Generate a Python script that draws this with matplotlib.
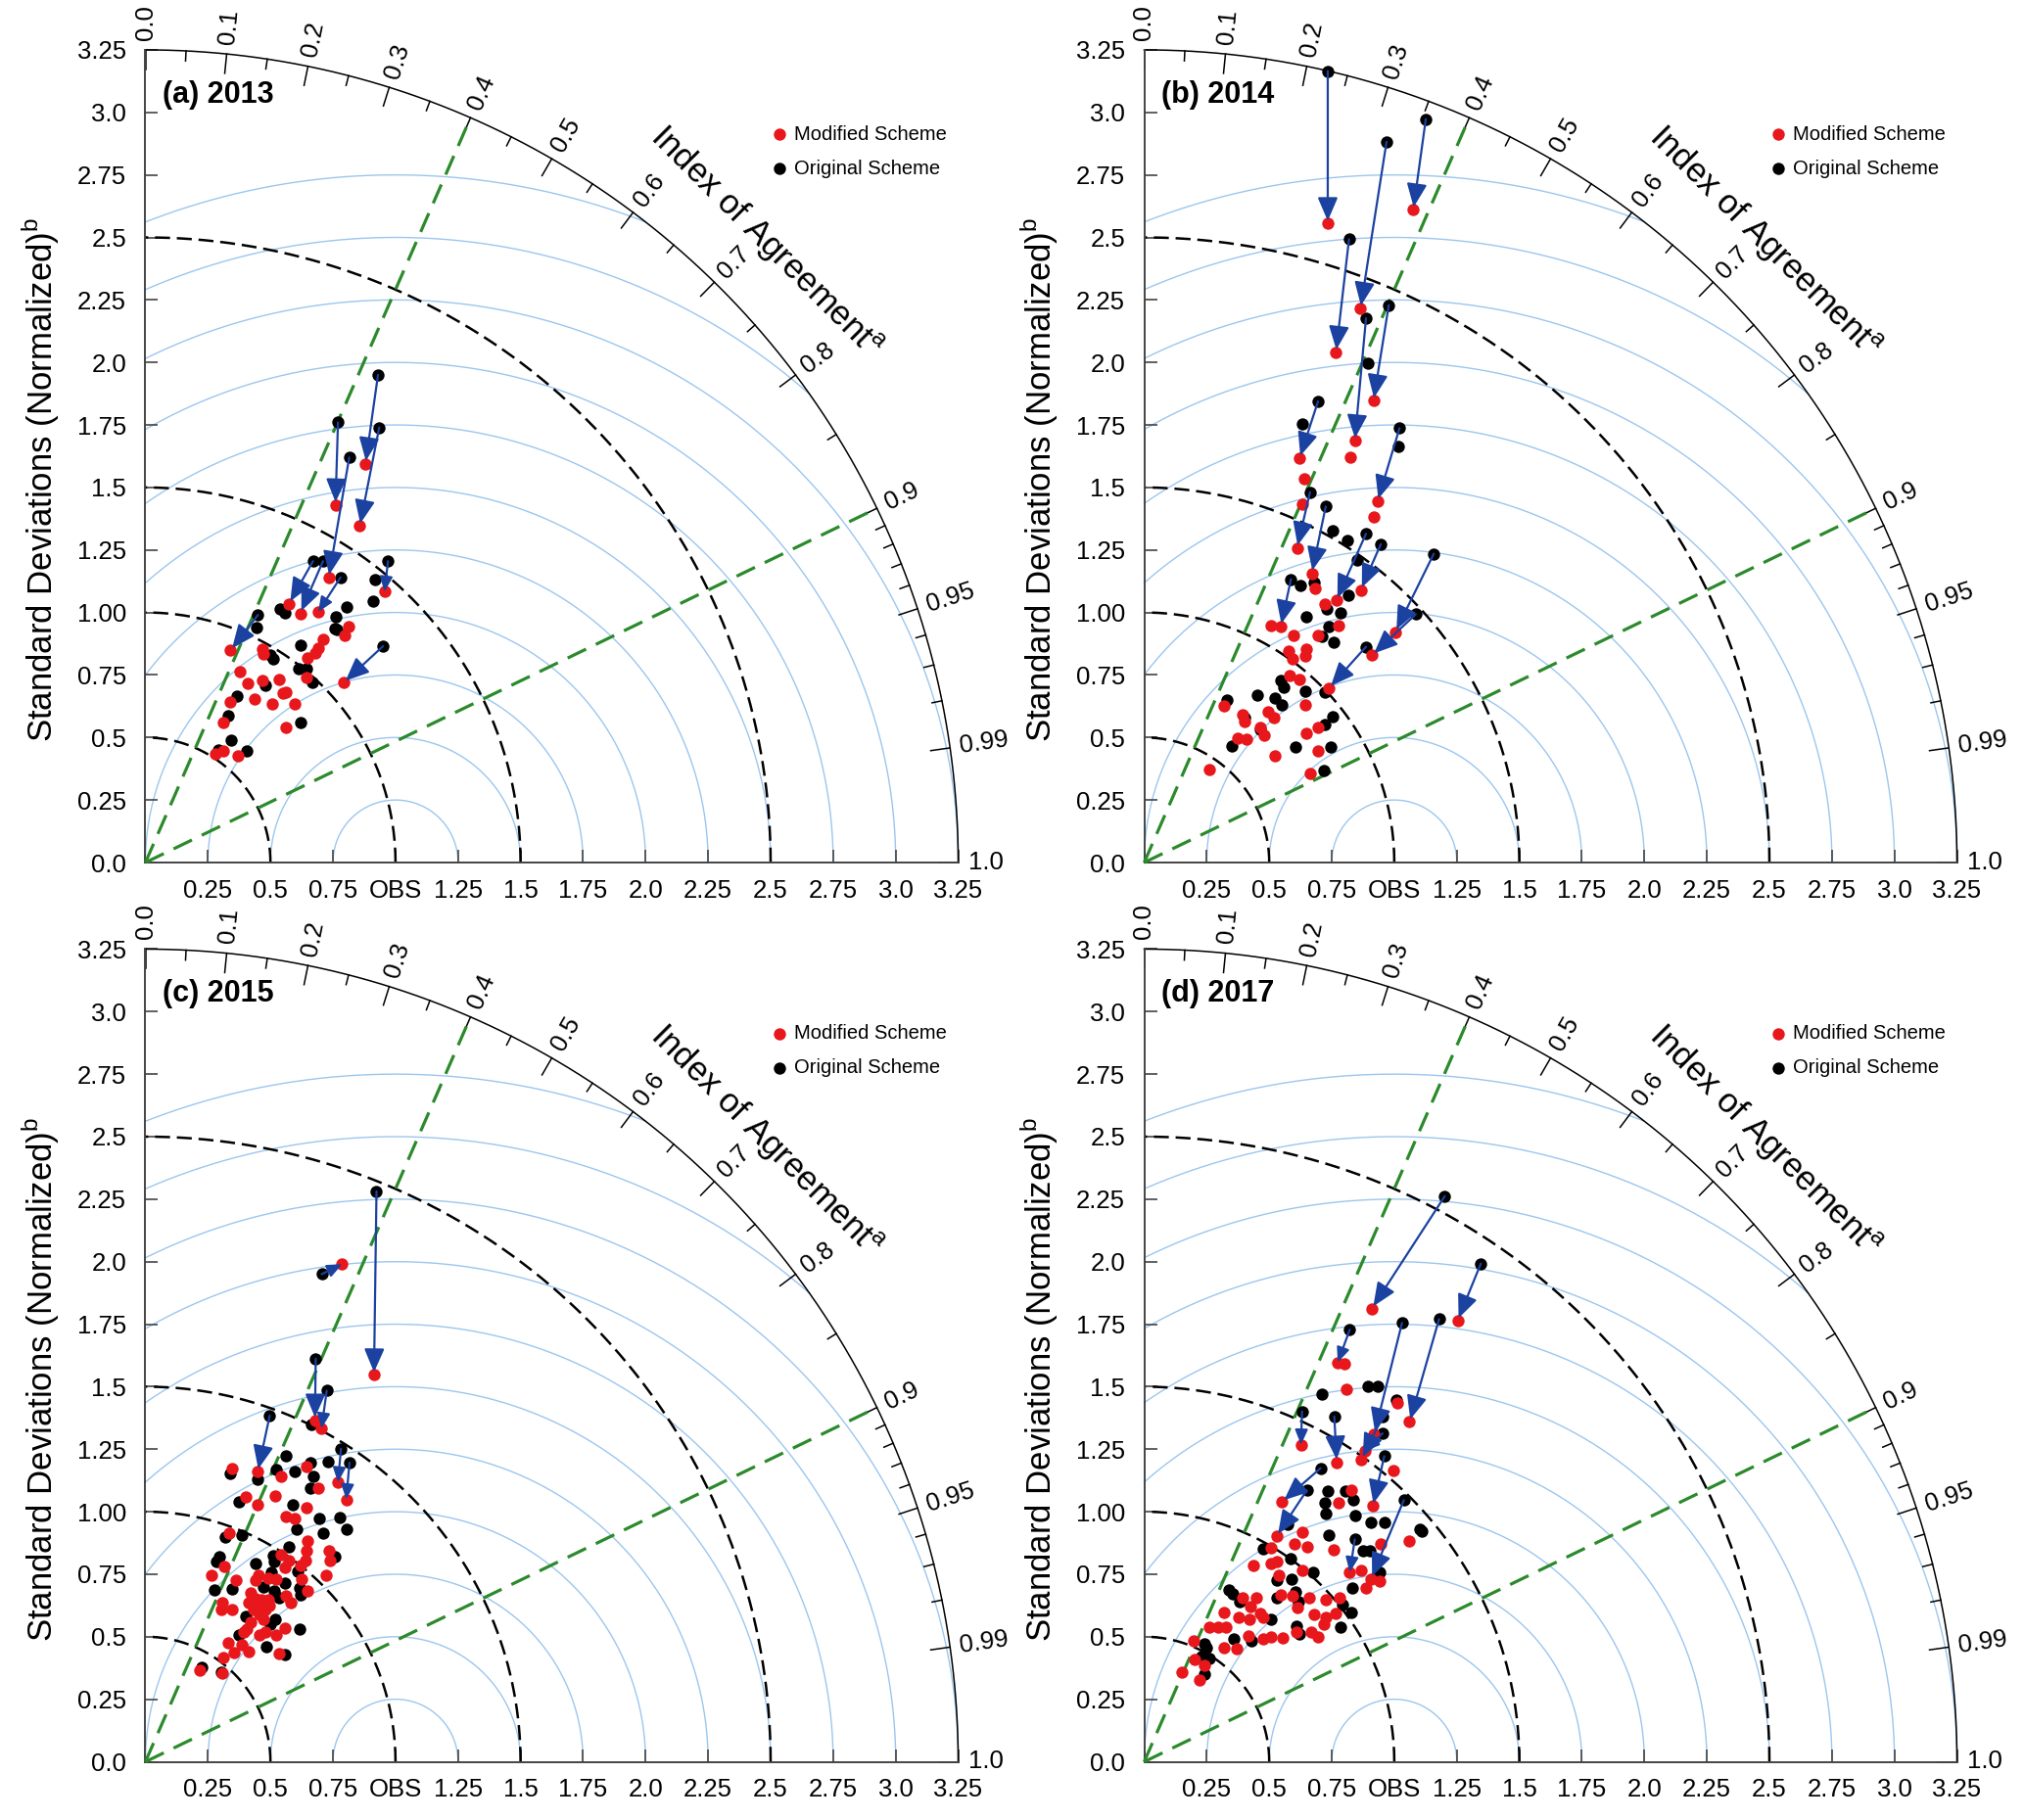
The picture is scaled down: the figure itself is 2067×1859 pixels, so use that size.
import numpy as np
import matplotlib
matplotlib.use('Agg')
import matplotlib.pyplot as plt

plt.rcParams['font.family'] = ['Liberation Sans', 'DejaVu Sans']
plt.rcParams['mathtext.fontset'] = 'custom'
plt.rcParams['mathtext.rm'] = 'Liberation Sans'
plt.rcParams['lines.scale_dashes'] = False

# ---- data (x = std*cos, y = std*sin, normalized) ----
# the first *_links points of orig are linked by an arrow to the same index in mod

titles = ['(a) 2013', '(b) 2014', '(c) 2015', '(d) 2017']

a_orig = [(0.93, 1.95), (0.77, 1.76), (0.935, 1.74), (0.815, 1.62), (0.67, 1.205), (0.71, 1.205),
          (0.78, 1.14), (0.97, 1.205), (0.45, 0.99), (0.95, 0.865),
          (0.92, 1.13), (0.91, 1.045), (0.54, 1.015), (0.557, 1.0), (0.805, 1.02), (0.763, 0.983),
          (0.756, 0.937), (0.765, 0.933), (0.446, 0.94), (0.622, 0.869), (0.512, 0.813), (0.50, 0.83),
          (0.613, 0.777), (0.643, 0.777), (0.668, 0.719), (0.48, 0.709), (0.367, 0.667), (0.33, 0.588),
          (0.343, 0.489), (0.407, 0.448), (0.622, 0.561), (0.29, 0.45)]
a_mod = [(0.88, 1.595), (0.76, 1.43), (0.857, 1.345), (0.733, 1.14), (0.574, 1.035), (0.619, 0.996),
         (0.691, 1.002), (0.956, 1.083), (0.34, 0.848), (0.792, 0.719),
         (0.469, 0.852), (0.473, 0.833), (0.711, 0.891), (0.691, 0.859), (0.678, 0.839), (0.648, 0.817),
         (0.812, 0.944), (0.796, 0.907), (0.643, 0.741), (0.378, 0.764), (0.41, 0.715), (0.467, 0.728),
         (0.534, 0.732), (0.561, 0.683), (0.55, 0.677), (0.437, 0.654), (0.508, 0.633), (0.596, 0.633),
         (0.339, 0.641), (0.313, 0.559), (0.561, 0.539), (0.28, 0.435), (0.313, 0.445), (0.369, 0.426)]
a_links = 10

b_orig = [(0.734, 3.165), (1.126, 2.973), (0.969, 2.882), (0.819, 2.493), (0.978, 2.229), (0.887, 2.177),
          (0.695, 1.844), (1.021, 1.737), (0.663, 1.481), (0.726, 1.424), (0.887, 1.315), (0.946, 1.273),
          (1.158, 1.235), (1.086, 0.993), (0.887, 0.863), (0.587, 1.133),
          (0.893, 1.998), (0.632, 1.753), (1.017, 1.664), (0.752, 1.329), (0.811, 1.289), (0.852, 1.211),
          (0.626, 1.107), (0.678, 1.120), (0.815, 1.070), (0.730, 1.016), (0.785, 0.998), (0.649, 0.982),
          (0.739, 0.944), (0.711, 0.904), (0.756, 0.881), (0.547, 0.728), (0.557, 0.702), (0.645, 0.687),
          (0.453, 0.670), (0.521, 0.659), (0.551, 0.631), (0.721, 0.680), (0.753, 0.585), (0.721, 0.552),
          (0.332, 0.650), (0.400, 0.578), (0.463, 0.532), (0.352, 0.467), (0.604, 0.461), (0.747, 0.463),
          (0.717, 0.369)]
b_mod = [(0.734, 2.555), (1.076, 2.610), (0.865, 2.216), (0.767, 2.040), (0.917, 1.847), (0.842, 1.686),
         (0.621, 1.616), (0.933, 1.444), (0.611, 1.257), (0.670, 1.157), (0.768, 1.048), (0.866, 1.090),
         (1.004, 0.922), (0.911, 0.829), (0.739, 0.698), (0.546, 0.944),
         (0.825, 1.622), (0.641, 1.534), (0.632, 1.433), (0.920, 1.381), (0.684, 1.096), (0.721, 1.035),
         (0.776, 0.947), (0.508, 0.947), (0.596, 0.910), (0.695, 0.907), (0.578, 0.846), (0.649, 0.855),
         (0.643, 0.826), (0.593, 0.813), (0.580, 0.746), (0.619, 0.732), (0.643, 0.630), (0.319, 0.626),
         (0.395, 0.591), (0.400, 0.565), (0.495, 0.602), (0.517, 0.578), (0.463, 0.541), (0.478, 0.510),
         (0.372, 0.496), (0.411, 0.494), (0.649, 0.515), (0.695, 0.541), (0.695, 0.447), (0.522, 0.428),
         (0.663, 0.358), (0.260, 0.372)]
b_links = 16

c_orig = [(0.924, 2.281), (0.705, 1.950), (0.681, 1.612), (0.725, 1.484), (0.497, 1.384), (0.782, 1.252),
          (0.816, 1.196),
          (0.663, 1.347), (0.562, 1.223), (0.660, 1.195), (0.731, 1.201), (0.339, 1.153), (0.449, 1.130),
          (0.523, 1.169), (0.599, 1.162), (0.673, 1.140), (0.660, 1.094), (0.374, 1.039), (0.588, 1.029),
          (0.605, 0.929), (0.695, 0.974), (0.777, 0.977), (0.806, 0.929), (0.709, 0.916), (0.319, 0.899),
          (0.384, 0.906), (0.575, 0.860), (0.757, 0.821), (0.294, 0.821), (0.283, 0.801), (0.277, 0.686),
          (0.345, 0.691), (0.510, 0.825), (0.516, 0.799), (0.442, 0.792), (0.608, 0.760), (0.504, 0.756),
          (0.558, 0.714), (0.618, 0.695), (0.621, 0.669), (0.514, 0.682), (0.536, 0.656), (0.517, 0.571),
          (0.501, 0.552), (0.617, 0.532), (0.374, 0.506), (0.484, 0.461), (0.556, 0.429), (0.225, 0.379),
          (0.303, 0.360), (0.47, 0.70), (0.45, 0.62), (0.40, 0.58)]
c_mod = [(0.914, 1.547), (0.787, 1.990), (0.678, 1.366), (0.704, 1.333), (0.449, 1.160), (0.770, 1.117),
         (0.803, 1.049),
         (0.644, 1.179), (0.348, 1.171), (0.543, 1.143), (0.692, 1.094), (0.403, 1.058), (0.449, 1.029),
         (0.519, 1.062), (0.644, 1.016), (0.562, 0.981), (0.599, 0.974), (0.335, 0.916), (0.649, 0.881),
         (0.644, 0.844), (0.735, 0.844), (0.740, 0.805), (0.316, 0.782), (0.264, 0.747), (0.361, 0.725),
         (0.543, 0.829), (0.575, 0.805), (0.556, 0.779), (0.621, 0.786), (0.640, 0.805), (0.722, 0.747),
         (0.452, 0.747), (0.439, 0.725), (0.491, 0.734), (0.523, 0.730), (0.625, 0.730), (0.649, 0.682),
         (0.419, 0.675), (0.562, 0.665), (0.582, 0.636), (0.413, 0.636), (0.439, 0.652), (0.465, 0.649),
         (0.491, 0.647), (0.445, 0.617), (0.478, 0.610), (0.455, 0.591), (0.471, 0.571), (0.497, 0.626),
         (0.432, 0.610), (0.306, 0.636), (0.303, 0.610), (0.348, 0.608), (0.419, 0.558), (0.406, 0.532),
         (0.556, 0.535), (0.523, 0.509), (0.455, 0.509), (0.478, 0.519), (0.394, 0.519), (0.329, 0.474),
         (0.384, 0.468), (0.413, 0.442), (0.355, 0.435), (0.312, 0.416), (0.534, 0.431), (0.216, 0.366),
         (0.306, 0.356)]
c_links = 7

d_orig = [(1.202, 2.262), (1.346, 1.992), (0.822, 1.728), (1.031, 1.755), (1.179, 1.770), (0.631, 1.401),
          (0.760, 1.381), (0.960, 1.222), (0.705, 1.174), (0.650, 1.085), (0.842, 0.889), (1.038, 1.046),
          (0.953, 1.379), (0.953, 1.313),
          (0.894, 1.500), (0.933, 1.500), (0.711, 1.470), (1.009, 1.448), (0.734, 1.082), (0.803, 1.082),
          (0.836, 1.046), (0.722, 1.035), (0.725, 0.991), (0.842, 0.983), (0.905, 0.957), (0.960, 0.957),
          (1.103, 0.931), (1.110, 0.922), (0.574, 0.948), (0.738, 0.905), (0.875, 0.843), (0.901, 0.843),
          (0.476, 0.852), (0.587, 0.811), (0.675, 0.758), (0.591, 0.730), (0.531, 0.726), (0.940, 0.758),
          (0.833, 0.696), (0.339, 0.687), (0.356, 0.670), (0.604, 0.678), (0.529, 0.654), (0.383, 0.641),
          (0.617, 0.641), (0.794, 0.628), (0.829, 0.599), (0.507, 0.569), (0.607, 0.543), (0.620, 0.510),
          (0.787, 0.537), (0.359, 0.493), (0.428, 0.482), (0.242, 0.471), (0.248, 0.456), (0.228, 0.419),
          (0.261, 0.413), (0.242, 0.351)]
d_mod = [(0.910, 1.812), (1.253, 1.764), (0.774, 1.597), (0.920, 1.310), (1.061, 1.359), (0.627, 1.268),
         (0.770, 1.198), (0.914, 1.022), (0.551, 1.039), (0.529, 0.902), (0.822, 0.758), (0.907, 0.732),
         (0.869, 1.209), (0.881, 1.242),
         (0.800, 1.590), (0.809, 1.490), (1.014, 1.435), (0.996, 1.163), (0.829, 1.085), (0.777, 1.035),
         (0.633, 0.918), (0.601, 0.872), (0.653, 0.860), (0.509, 0.856), (0.758, 0.846), (0.947, 0.873),
         (1.061, 0.883), (0.437, 0.785), (0.509, 0.791), (0.531, 0.800), (0.633, 0.765), (0.539, 0.745),
         (0.869, 0.765), (0.940, 0.722), (0.885, 0.696), (0.392, 0.654), (0.450, 0.654), (0.424, 0.621),
         (0.548, 0.667), (0.594, 0.664), (0.659, 0.654), (0.727, 0.648), (0.783, 0.657), (0.614, 0.615),
         (0.320, 0.599), (0.379, 0.578), (0.420, 0.569), (0.464, 0.595), (0.477, 0.576), (0.679, 0.591),
         (0.727, 0.576), (0.718, 0.552), (0.764, 0.595), (0.261, 0.539), (0.294, 0.539), (0.326, 0.539),
         (0.418, 0.504), (0.477, 0.491), (0.509, 0.500), (0.555, 0.495), (0.607, 0.517), (0.666, 0.517),
         (0.696, 0.500), (0.196, 0.484), (0.320, 0.458), (0.369, 0.454), (0.200, 0.409), (0.242, 0.386),
         (0.150, 0.360), (0.222, 0.328)]
d_links = 14

# axis ticks / labels
x_ticks = [0.25, 0.5, 0.75, 1.0, 1.25, 1.5, 1.75, 2.0, 2.25, 2.5, 2.75, 3.0, 3.25]
x_labels = ['0.25', '0.5', '0.75', 'OBS', '1.25', '1.5', '1.75', '2.0', '2.25', '2.5', '2.75', '3.0', '3.25']
y_ticks = [0.0, 0.25, 0.5, 0.75, 1.0, 1.25, 1.5, 1.75, 2.0, 2.25, 2.5, 2.75, 3.0, 3.25]
y_labels = ['0.0', '0.25', '0.5', '0.75', '1.00', '1.25', '1.5', '1.75', '2.0', '2.25', '2.5', '2.75', '3.0', '3.25']
ioa_major = [0.0, 0.1, 0.2, 0.3, 0.4, 0.5, 0.6, 0.7, 0.8, 0.9, 0.95, 0.99, 1.0]
ioa_major_lab = ['0.0', '0.1', '0.2', '0.3', '0.4', '0.5', '0.6', '0.7', '0.8', '0.9', '0.95', '0.99', '1.0']
ioa_minor = [0.05, 0.15, 0.25, 0.35, 0.45, 0.55, 0.65, 0.75, 0.85, 0.91, 0.92, 0.93, 0.94, 0.96, 0.97, 0.98]
ioa_green = [0.4, 0.9]
std_dashed = [0.5, 1.0, 1.5, 2.5]
rms_arcs = [0.25, 0.5, 0.75, 1.0, 1.25, 1.5, 1.75, 2.0, 2.25, 2.5, 2.75]
RMAX = 3.25

RED = '#e8171c'
BLUE_ARC = '#9cc6ee'
GREEN = '#2b8a2b'
ARROW = '#1b42a0'
GREY = '#444444'
U = 255.4  # pixels per data unit


def draw_panel(ax, title, orig, mod, nlink):
    t = np.linspace(0, np.pi / 2, 400)
    # rms arcs around OBS
    phi = np.linspace(0, np.pi, 3000)
    for r in rms_arcs:
        x = 1 + r * np.cos(phi)
        y = r * np.sin(phi)
        bad = (x < 0) | (x**2 + y**2 > RMAX**2 + 1e-9)
        x[bad] = np.nan
        ax.plot(x, y, color=BLUE_ARC, lw=1.0, zorder=1)
    # std arcs
    for r in std_dashed:
        ax.plot(r * np.cos(t), r * np.sin(t), color='black', lw=1.8,
                dashes=(11, 5), zorder=2)
    # outer arc
    ax.plot(RMAX * np.cos(t), RMAX * np.sin(t), color='black', lw=1.1, zorder=2)
    for v, lab in zip(ioa_major, ioa_major_lab):
        th = np.arccos(v)
        ax.plot([RMAX * np.cos(th), (RMAX - 0.078) * np.cos(th)],
                [RMAX * np.sin(th), (RMAX - 0.078) * np.sin(th)], color='black', lw=1.1)
        ax.text((RMAX + 0.04) * np.cos(th), (RMAX + 0.04) * np.sin(th), lab,
                rotation=np.degrees(th), rotation_mode='anchor', ha='left', va='center',
                fontsize=18.5)
    for v in ioa_minor:
        th = np.arccos(v)
        ax.plot([RMAX * np.cos(th), (RMAX - 0.04) * np.cos(th)],
                [RMAX * np.sin(th), (RMAX - 0.04) * np.sin(th)], color='black', lw=1.1)
    # green reference lines
    for v in ioa_green:
        th = np.arccos(v)
        ax.plot([0, RMAX * np.cos(th)], [0, RMAX * np.sin(th)], color=GREEN, lw=2.3,
                dashes=(15, 8), zorder=3)

    ox = np.array([p[0] for p in orig])
    oy = np.array([p[1] for p in orig])
    mx = np.array([p[0] for p in mod])
    my = np.array([p[1] for p in mod])
    so = ax.scatter(ox, oy, s=80, color='black', linewidths=0, zorder=4)
    sm = ax.scatter(mx, my, s=80, color=RED, linewidths=0, zorder=5)
    for i in range(nlink):
        dist = np.hypot(mx[i] - ox[i], my[i] - oy[i]) * U
        ms = 21 if dist > 45 else 13
        ax.annotate('', xy=(mx[i], my[i]), xytext=(ox[i], oy[i]), zorder=6,
                    arrowprops=dict(arrowstyle='-|>,head_length=0.7,head_width=0.3',
                                    mutation_scale=ms, color=ARROW, lw=1.6,
                                    shrinkA=0, shrinkB=2 if dist > 45 else 0))

    # cartesian axes
    for s in ['top', 'right']:
        ax.spines[s].set_visible(False)
    for s in ['left', 'bottom']:
        ax.spines[s].set_position(('data', 0))
        ax.spines[s].set_bounds(0, RMAX)
        ax.spines[s].set_color(GREY)
        ax.spines[s].set_linewidth(1.4)
    ax.set_xticks(x_ticks)
    ax.set_xticklabels(x_labels)
    ax.set_yticks(y_ticks)
    ax.set_yticklabels(y_labels)
    ax.tick_params(axis='both', direction='in', length=9.5, width=1.2, color=GREY,
                   labelsize=18.5)
    ax.tick_params(axis='x', pad=12)
    ax.tick_params(axis='y', pad=14)
    ax.patch.set_visible(False)

    ax.text(-0.42, 1.53, 'Standard Deviations (Normalized)$^{\\mathrm{b}}$', rotation=90,
            ha='center', va='center', fontsize=25)
    ax.text(3.51 * np.cos(np.pi / 4), 3.51 * np.sin(np.pi / 4), 'Index of Agreement$^{\\mathrm{a}}$',
            rotation=-45, rotation_mode='anchor', ha='center', va='center', fontsize=25)
    ax.text(0.07, 3.07, title, fontweight='bold', fontsize=22, ha='left', va='center')
    ax.legend([sm, so], ['Modified Scheme', 'Original Scheme'], loc='upper left',
              bbox_to_anchor=(2.505, 2.95), bbox_transform=ax.transData, frameon=False,
              fontsize=14.5, handletextpad=0.35, handlelength=0.8, labelspacing=0.8,
              borderpad=0, borderaxespad=0, scatterpoints=1)


W, H = 2067, 1859
origins = [(148.5, 881), (1168.5, 881), (148.5, 1799.5), (1168.5, 1799.5)]
xl, xr, yb, yt = -0.58, 3.62, -0.32, 3.45

fig = plt.figure(figsize=(W / 100, H / 100), dpi=100)
panels = [(a_orig, a_mod, a_links), (b_orig, b_mod, b_links),
          (c_orig, c_mod, c_links), (d_orig, d_mod, d_links)]
for (px, py), title, (orig, mod, nl) in zip(origins, titles, panels):
    left = (px + xl * U) / W
    bottom = 1 - (py - yb * U) / H
    ax = fig.add_axes([left, bottom, (xr - xl) * U / W, (yt - yb) * U / H])
    ax.set_xlim(xl, xr)
    ax.set_ylim(yb, yt)
    draw_panel(ax, title, orig, mod, nl)

fig.savefig('out.png', dpi=100)
